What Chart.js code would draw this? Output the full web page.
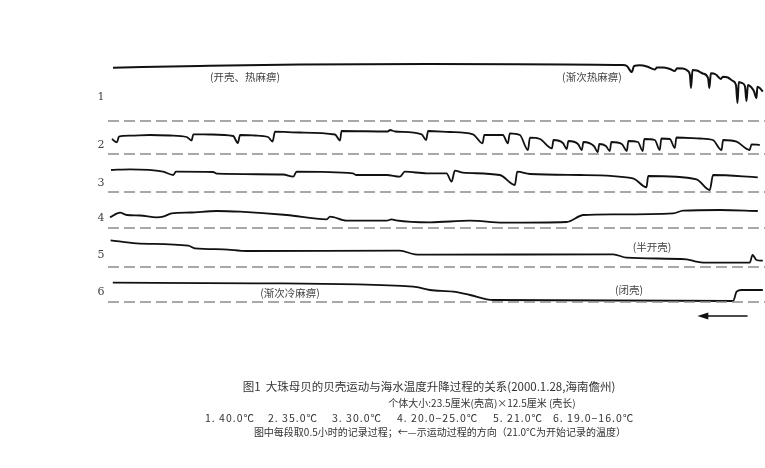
<!DOCTYPE html>
<html>
<head>
<meta charset="utf-8">
<script src="https://cdn.jsdelivr.net/npm/chart.js@4.4.1/dist/chart.umd.min.js"></script>
<style>
  body { margin: 0; background: #fff; }
  #wrap { position: relative; width: 765px; height: 468px; overflow: hidden; }
  canvas { position: absolute; left: 0; top: 0; }
  .cap { position: absolute; white-space: nowrap; font-family: "Noto Sans CJK SC", sans-serif; color: #333; transform: translate(-50%, -50%); line-height: 1; }
  .item { position: absolute; white-space: nowrap; font-family: "Noto Sans CJK SC", sans-serif; color: #333; font-size: 10.5px; transform: translateY(-50%); line-height: 1; letter-spacing: 1px; }
</style>
</head>
<body>
<div id="wrap">
  <canvas id="chart" width="765" height="468"></canvas>
  <div class="cap" style="left:429px; top:387px; font-size:11.5px;">图1&nbsp;&nbsp;大珠母贝的贝壳运动与海水温度升降过程的关系(2000.1.28,海南儋州)</div>
  <div class="cap" style="left:482px; top:403px; font-size:10px;">个体大小:23.5厘米(壳高)×12.5厘米 (壳长)</div>
  <div class="item" style="left:205px; top:418px;">1. 40.0℃</div>
  <div class="item" style="left:268px; top:418px;">2. 35.0℃</div>
  <div class="item" style="left:332px; top:418px;">3. 30.0℃</div>
  <div class="item" style="left:397px; top:418px;">4. 20.0−25.0℃</div>
  <div class="item" style="left:493px; top:418px;">5. 21.0℃</div>
  <div class="item" style="left:553px; top:418px;">6. 19.0−16.0℃</div>
  <div class="cap" style="left:440px; top:432px; font-size:10px;">图中每段取0.5小时的记录过程；←—示运动过程的方向（21.0℃为开始记录的温度）</div>
</div>
<script>
// time in minutes (one record = 0.5 h), trace height above its dashed baseline
const trace1 = [[0.23,53.3],[4.21,55],[8.80,56.5],[14.66,57],[23.59,56],[23.77,55],[24.00,49],[24.10,55],
  [24.37,55.7],[24.69,54.5],[25.06,51.5],[25.15,53.5],[25.42,53.5],[25.74,52],[25.97,50],[26.07,52.7],
  [26.34,52.5],[26.57,50],[26.66,46],[26.71,33],[26.78,51],[26.98,50.5],[27.25,47.5],[27.49,43],
  [27.55,33],[27.62,47.7],[27.85,46.5],[28.08,42],[28.17,44.3],[28.40,43.5],[28.63,40],[28.77,36],
  [28.84,18],[28.90,39],[29.04,38],[29.18,35],[29.25,20],[29.32,36],[29.46,34],[29.59,30],
  [29.71,23],[29.75,34.3],[29.86,33],[30.0,29.3]];

const trace2 = [[0.18,15],[0.41,11.7],[0.50,17.3],[1.01,18.3],[1.92,19],[2.84,18.5],[3.60,17],[3.83,13.5],
  [3.91,19.7],[4.67,19.5],[5.73,18],[5.95,11],[6.05,19],[6.73,18.5],[7.33,17],[7.54,12.5],[7.65,22.3],
  [8.79,21.5],[10.40,19.5],[10.63,13.5],[10.70,23],[12.82,22.5],[12.92,24],[13.15,22.5],[14.37,19.7],
  [14.57,14],[14.67,23],[15.66,22],[16.72,19.7],[17.16,10.7],[17.24,19],[18.09,19],[18.32,10.7],
  [18.41,20.7],[18.87,19],[19.24,4],[19.33,16.3],[19.79,15],[20.34,5.7],[20.41,14],[20.84,11],
  [21.02,5],[21.09,13],[21.53,10],[21.71,4],[21.78,12],[22.26,8],[22.44,2],[22.51,10],[22.81,8],
  [22.99,3],[23.06,12],[23.54,10],[23.77,3],[23.84,13],[24.28,12],[24.50,3],[24.57,15],[25.05,14],
  [25.28,4],[25.35,15.5],[25.74,15],[25.97,6],[26.04,16.5],[27.12,15.5],[27.71,14],[28.11,4],
  [28.18,14],[28.80,12.3],[29.40,4],[29.48,9.7],[29.86,9]];

const trace3 = [[0.14,22],[1.01,22.7],[2.52,20.3],[2.99,17],[3.11,20.3],[4.81,20],[4.99,18.3],[8.02,17.5],
  [8.49,15.3],[8.64,20.3],[11.22,18.7],[11.36,17],[12.77,17],[13.37,15.3],[13.60,20.3],[14.60,18.7],
  [15.51,18.7],[15.74,10.3],[15.89,21.3],[16.26,19.3],[17.95,17],[18.64,7],[18.75,20.3],[19.33,18],
  [21.62,17],[24.05,13.7],[24.67,4.7],[24.75,16],[26.96,12.7],[27.57,2],[27.72,17],[29.77,14.7]];

const trace4 = [[0.09,10.7],[0.55,15.3],[0.86,13],[1.47,12.5],[2.23,10.7],[2.52,11.3],[2.92,14.7],
  [3.76,15.5],[4.98,17],[6.05,16.3],[8.19,13],[10.02,8.7],[10.17,11.3],[10.93,7.3],[12.77,7.3],
  [12.99,8.7],[13.19,7.7],[14.75,5.7],[16.58,7.3],[18.11,5.3],[21.01,6],[21.78,13],[23.14,13.7],
  [25.89,14.7],[26.35,17.3],[28.04,18],[29.77,17]];

const trace5 = [[0.12,26.7],[1.31,23.7],[3.68,21.3],[3.98,18.7],[5.28,17.7],[6.35,16],[13.37,16.3],
  [14.06,12.7],[14.75,12.3],[23.14,12.7],[23.76,9.3],[26.51,7.7],[26.96,5.3],[27.27,4.3],[29.40,4.3],
  [29.53,12],[29.71,7],[30.0,6.3]];

const trace6 = [[0.22,19.3],[6.81,18.7],[13.98,15.3],[14.75,12],[15.82,10.3],[16.58,7],[17.65,2],
  [28.64,1],[28.80,10.3],[29.03,12],[30.0,12]];

const rowLabels = ['1', '2', '3', '4', '5', '6'];
const notes = [
  { text: '(开壳、热麻痹)', row: 0, t: 6.28, h: 44 },
  { text: '(渐次热麻痹)', row: 0, t: 22.17, h: 44 },
  { text: '(半开壳)', row: 4, t: 24.92, h: 20 },
  { text: '(渐次冷麻痹)', row: 5, t: 8.34, h: 9 },
  { text: '(闭壳)', row: 5, t: 23.87, h: 12 }
];

const traces = [trace1, trace2, trace3, trace4, trace5, trace6];
const rowBase = [209, 176, 138, 102, 63, 28];
const labelH = [24, 9, 9, 10, 12, 10];

const datasets = [];
traces.forEach((tr, i) => {
  datasets.push({
    data: [{ x: 0, y: rowBase[i] }, { x: 30.1, y: rowBase[i] }],
    borderColor: '#8c8c8c',
    borderWidth: 1.4,
    borderDash: [11, 5],
    tension: 0
  });
  datasets.push({
    data: tr.map(p => ({ x: p[0], y: rowBase[i] + p[1] })),
    borderColor: '#111',
    borderWidth: i === 0 ? 2 : 1.8,
    cubicInterpolationMode: 'monotone'
  });
});

const textPlugin = {
  id: 'recordText',
  afterDatasetsDraw(chart) {
    const { ctx, scales: { x, y } } = chart;
    ctx.save();
    ctx.fillStyle = '#444';
    ctx.textBaseline = 'middle';
    ctx.textAlign = 'center';
    ctx.font = '11px "DejaVu Serif", serif';
    rowLabels.forEach((l, i) => {
      ctx.fillText(l, x.getPixelForValue(-0.32), y.getPixelForValue(rowBase[i] + labelH[i]));
    });
    ctx.font = '10.5px "Noto Sans CJK SC", sans-serif';
    notes.forEach(n => {
      ctx.fillText(n.text, x.getPixelForValue(n.t), y.getPixelForValue(rowBase[n.row] + n.h));
    });
    // direction arrow
    const ay = y.getPixelForValue(14);
    const x0 = x.getPixelForValue(29.3), x1 = x.getPixelForValue(27.0);
    ctx.strokeStyle = '#111';
    ctx.lineWidth = 1.5;
    ctx.beginPath();
    ctx.moveTo(x0, ay);
    ctx.lineTo(x1 + 6, ay);
    ctx.stroke();
    ctx.fillStyle = '#111';
    ctx.beginPath();
    ctx.moveTo(x1, ay);
    ctx.lineTo(x1 + 11, ay - 3.5);
    ctx.lineTo(x1 + 11, ay + 3.5);
    ctx.closePath();
    ctx.fill();
    ctx.restore();
  }
};

new Chart(document.getElementById('chart'), {
  type: 'line',
  data: { datasets },
  options: {
    responsive: false,
    animation: false,
    layout: { padding: { left: 108, right: 0, top: 30, bottom: 138 } },
    elements: { point: { radius: 0 } },
    plugins: { legend: { display: false }, tooltip: { enabled: false } },
    scales: {
      x: { type: 'linear', min: 0, max: 30.1, display: false },
      y: { min: 0, max: 300, display: false }
    }
  },
  plugins: [textPlugin]
});
</script>
</body>
</html>
